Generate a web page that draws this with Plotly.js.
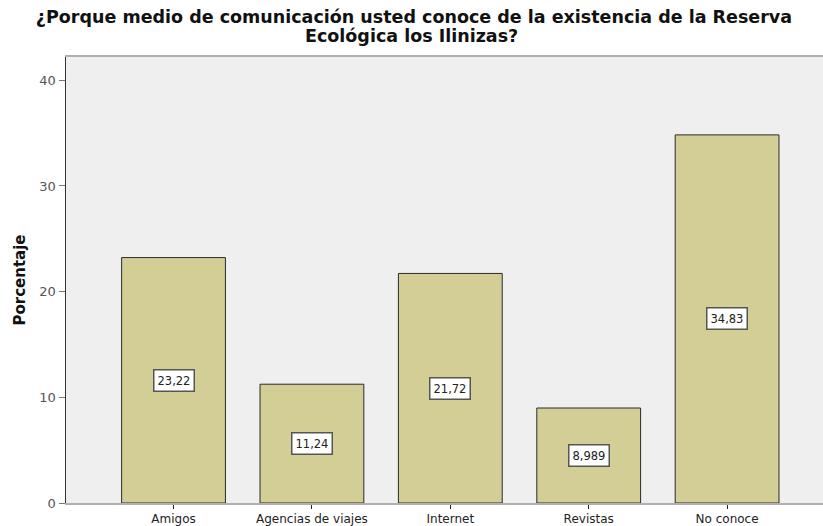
<!DOCTYPE html>
<html>
<head>
<meta charset="utf-8">
<script src="https://cdn.plot.ly/plotly-3.0.1.min.js"></script>
<style>html,body{margin:0;padding:0;background:#fff;}#chart{width:823px;height:526px;}</style>
</head>
<body>
<div id="chart"></div>
<script>
var categories = ["Amigos", "Agencias de viajes", "Internet", "Revistas", "No conoce"];
var values = [23.22, 11.24, 21.72, 8.989, 34.83];
var valueLabels = ["23,22", "11,24", "21,72", "8,989", "34,83"];
var yTicks = [0, 10, 20, 30, 40];
var titleLine1 = "¿Porque medio de comunicación usted conoce de la existencia de la Reserva";
var titleLine2 = "Ecológica los Ilinizas?";

var FONT = "DejaVu Sans, Verdana, sans-serif";

var trace = {
  type: "bar",
  x: categories,
  y: values,
  width: 0.75,
  marker: {color: "#d3ce96", line: {color: "#2a2a2a", width: 1}},
  hoverinfo: "none"
};

var annotations = categories.map(function(c, i) {
  return {
    x: c, y: values[i] / 2, xref: "x", yref: "y",
    text: valueLabels[i], showarrow: false,
    font: {family: FONT, size: 11.5, color: "#222"},
    bgcolor: "#ffffff", bordercolor: "#555555", borderwidth: 1.5, borderpad: 3
  };
});

annotations.push({
  xref: "paper", yref: "paper", x: 0.457, y: 1, yshift: 9,
  xanchor: "center", yanchor: "bottom",
  text: "<b>" + titleLine2 + "</b>", showarrow: false,
  font: {family: FONT, size: 17.5, color: "#111"}
});

var layout = {
  width: 823, height: 526,
  margin: {l: 66, r: 0, t: 57, b: 23},
  paper_bgcolor: "#ffffff",
  plot_bgcolor: "#efefef",
  font: {family: FONT},
  title: {
    text: "<b>" + titleLine1 + "</b>",
    font: {family: FONT, size: 17.5, color: "#111"},
    x: 0.503, xanchor: "center", y: 0.98, yanchor: "top"
  },
  xaxis: {
    type: "category",
    range: [-0.777, 4.693],
    showgrid: false, zeroline: false,
    showline: true, linecolor: "#b0b0b0", linewidth: 2, mirror: true,
    ticks: "outside", ticklen: 4, tickcolor: "#222", tickwidth: 1,
    tickfont: {family: FONT, size: 12, color: "#222"},
    fixedrange: true
  },
  yaxis: {
    range: [0, 42.2],
    tickvals: yTicks,
    ticktext: yTicks.map(String),
    showgrid: false, zeroline: false,
    showline: true, linecolor: "#333", linewidth: 1.5,
    ticks: "outside", ticklen: 6, tickcolor: "#777", tickwidth: 1,
    tickfont: {family: FONT, size: 13, color: "#555"},
    title: {text: "<b>Porcentaje</b>", font: {family: FONT, size: 15, color: "#111"}, standoff: 10},
    fixedrange: true
  },
  annotations: annotations,
  showlegend: false
};

Plotly.newPlot("chart", [trace], layout, {displayModeBar: false, staticPlot: true});
</script>
</body>
</html>
